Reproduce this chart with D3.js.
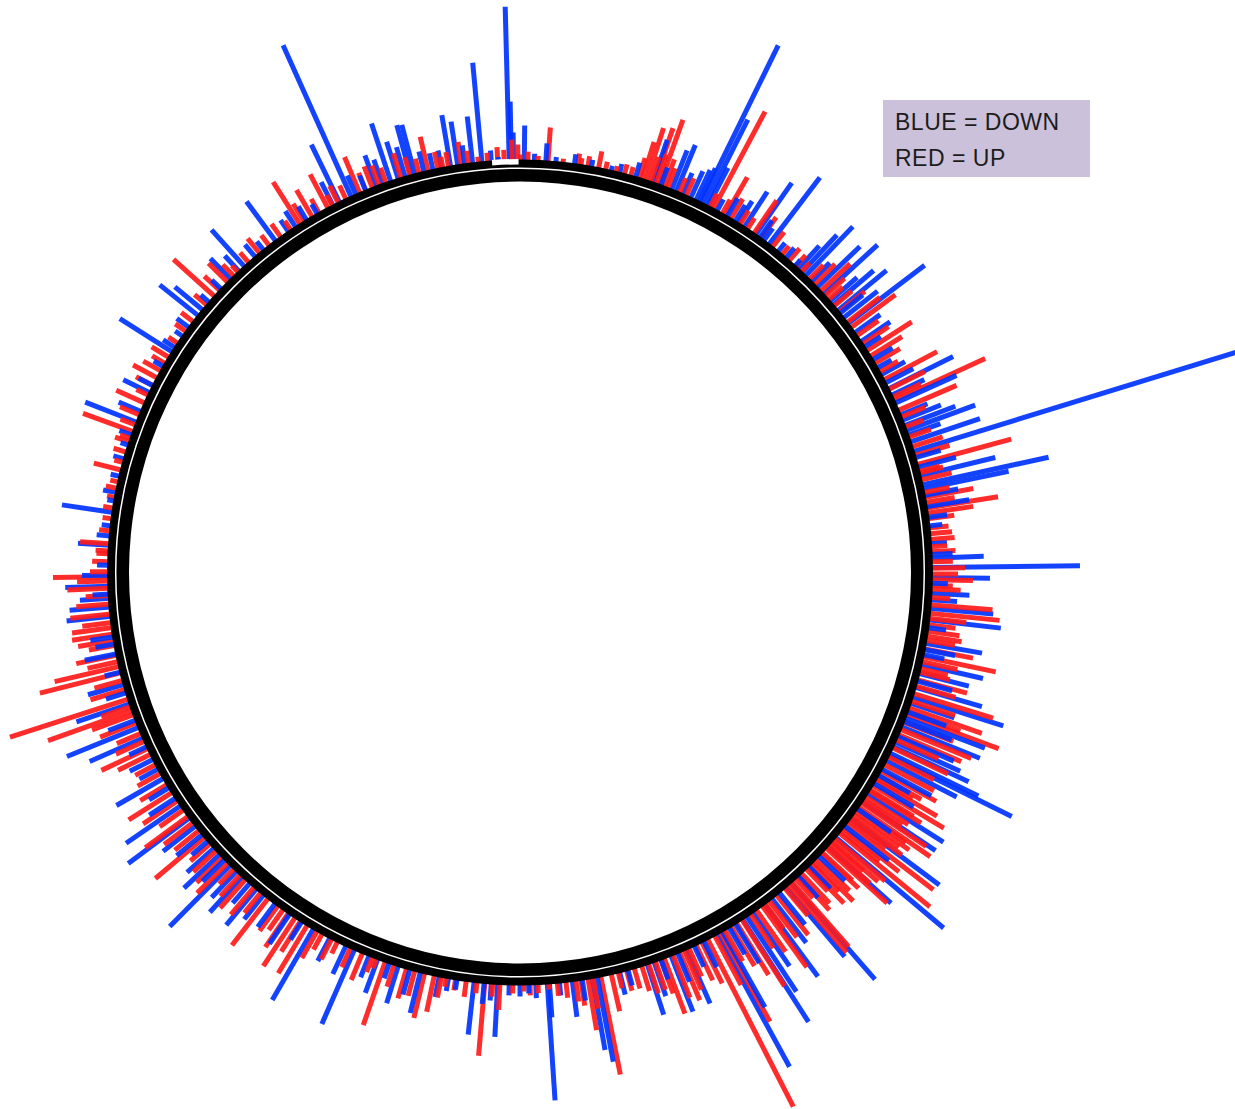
<!DOCTYPE html>
<html>
<head>
<meta charset="utf-8">
<script src="https://cdn.jsdelivr.net/npm/d3@7"></script>
<style>
body{margin:0;background:#fff;}
svg{display:block;}
.legend-text{font-family:"Liberation Sans", Arial, sans-serif;font-size:23px;letter-spacing:0.5px;fill:#1c1c1c;}
</style>
</head>
<body>
<div id="chart"></div>
<script>
// [position around the circle (degrees, clockwise from top), bar size]
var downBars = [
    [0.6, 34], [3.6, 17], [7.6, 9], [10.0, 6], [12.8, 4], [16.3, 14], [18.8, 44], [21.6, 41], [22.3, 49], [24.5, 28],
    [25.3, 32], [25.8, 36], [26.1, 174], [26.7, 94], [27.2, 42], [31.5, 18], [33.0, 41], [34.9, 62], [36.3, 14], [37.2, 83],
    [38.8, 10], [41.9, 7], [43.2, 50], [43.9, 67], [45.0, 25], [46.2, 58], [47.5, 72], [49.5, 52], [50.5, 62], [51.8, 42],
    [52.8, 95], [54.4, 30], [55.9, 34], [60.2, 15], [63.5, 71], [65.7, 66], [69.1, 53], [69.8, 72], [71.5, 72], [72.9, 350],
    [76.4, 76], [77.7, 128], [78.3, 86], [79.2, 33], [80.8, 42], [86.0, 15], [88.0, 51], [89.3, 147], [90.7, 57], [92.9, 37],
    [95.0, 62], [96.6, 71], [97.7, 17], [99.9, 56], [102.9, 62], [104.2, 50], [106.2, 68], [107.6, 94], [110.7, 84], [112.0, 83],
    [113.5, 60], [114.3, 70], [115.0, 82], [116.0, 97], [116.4, 136], [117.2, 78], [118.5, 55], [122.5, 89], [123.8, 87], [126.7, 110],
    [130.0, 140], [131.7, 84], [138.9, 127], [139.8, 90], [143.6, 89], [145.6, 64], [146.6, 89], [147.3, 121], [150.6, 86], [151.4, 150],
    [156.2, 58], [158.5, 59], [162.0, 52], [169.2, 85], [169.9, 72], [172.7, 35], [175.9, 33], [176.2, 116], [177.8, 13], [180.0, 11],
    [183.1, 52], [184.0, 16], [186.4, 52], [188.8, 9], [194.0, 41], [197.2, 38], [200.2, 35], [203.7, 80], [210.1, 81], [219.8, 46],
    [222.4, 47], [224.7, 85], [226.8, 48], [230.5, 32], [233.4, 75], [235.5, 65], [240.0, 53], [246.3, 57], [247.9, 76], [251.4, 55],
    [254.2, 36], [258.6, 31], [263.9, 43], [265.2, 39], [266.4, 28], [268.1, 42], [269.6, 25], [273.8, 30], [275.1, 12], [278.4, 50],
    [281.2, 12], [291.4, 54], [293.0, 23], [295.9, 28], [302.4, 61], [303.1, 13], [306.5, 14], [308.6, 48], [309.6, 35], [315.4, 28],
    [318.0, 48], [323.6, 48], [325.8, 13], [328.8, 15], [334.0, 63], [335.8, 165], [339.6, 32], [341.7, 60], [342.8, 38], [344.6, 51],
    [345.2, 50], [347.8, 16], [349.0, 17], [350.3, 51], [351.3, 43], [353.4, 46], [354.7, 99], [357.0, 3], [358.5, 153], [358.8, 58],
    [359.1, 27],
    // short bars hugging the ring
    [2.0, 6], [5.0, 4], [14.0, 8], [20.0, 18], [23.3, 22], [28.6, 12], [30.2, 20], [32.0, 25], [35.6, 20], [40.2, 12],
    [42.5, 30], [48.8, 35], [51.0, 28], [56.8, 18], [58.9, 22], [61.3, 26], [62.6, 30], [64.5, 35], [67.5, 28], [68.3, 40],
    [70.5, 33], [73.8, 25], [75.2, 38], [82.3, 18], [83.5, 12], [87.5, 20], [91.5, 15], [93.8, 25], [100.8, 30], [101.5, 20],
    [105.3, 35], [108.5, 45], [109.8, 40], [111.2, 50], [119.5, 35], [120.8, 45], [125.0, 40], [128.0, 55], [133.5, 35], [135.5, 30],
    [137.5, 28], [141.0, 40], [142.3, 55], [148.5, 45], [149.5, 30], [153.5, 28], [155.0, 22], [157.5, 30], [160.0, 20], [161.0, 35],
    [164.8, 15], [166.0, 22], [171.3, 20], [174.5, 12], [178.8, 8], [181.5, 10], [185.0, 20], [190.0, 12], [191.3, 20], [195.5, 25],
    [198.5, 15], [201.5, 22], [205.0, 30], [207.5, 25], [212.0, 20], [214.0, 35], [216.5, 28], [218.5, 30], [221.0, 25], [223.5, 35],
    [225.8, 30], [228.0, 35], [229.3, 20], [232.0, 40], [236.8, 30], [238.5, 22], [241.5, 20], [243.0, 25], [245.0, 18], [249.0, 28],
    [253.0, 20], [256.0, 15], [260.0, 18], [261.0, 22], [267.0, 15], [271.0, 10], [276.5, 8], [280.0, 6], [283.5, 8], [286.0, 10],
    [288.0, 7], [289.5, 12], [297.0, 15], [300.0, 10], [305.0, 8], [311.0, 10], [313.5, 12], [317.0, 20], [320.0, 15], [321.5, 10],
    [327.0, 18], [330.5, 10], [333.0, 25], [336.5, 20], [338.0, 15], [340.5, 25], [343.8, 30], [346.5, 20], [352.3, 18], [356.0, 10]
];

var upBars = [
    [1.1, 8], [3.9, 33], [8.1, 10], [8.5, 6], [9.5, 9], [11.0, 16], [14.7, 9], [15.6, 8], [17.3, 38], [17.9, 54],
    [18.5, 25], [19.0, 57], [19.3, 30], [19.8, 68], [20.5, 28], [21.0, 20], [28.0, 109], [29.4, 15], [29.9, 43], [33.5, 12],
    [34.6, 39], [43.1, 11], [44.6, 19], [46.9, 39], [48.5, 18], [49.7, 22], [52.6, 40], [53.5, 54], [57.4, 52], [58.3, 36],
    [62.1, 59], [63.6, 39], [65.3, 99], [66.8, 62], [72.2, 31], [74.8, 96], [76.0, 23], [79.5, 48], [81.0, 71], [81.7, 45],
    [84.6, 21], [85.4, 23], [87.1, 23], [89.4, 32], [91.0, 40], [91.8, 20], [94.5, 61], [95.7, 69], [96.4, 36], [98.2, 31],
    [98.9, 34], [100.7, 48], [101.8, 73], [103.5, 27], [105.1, 50], [107.1, 82], [109.2, 76], [110.2, 97], [112.4, 75], [113.2, 67],
    [114.0, 45], [117.8, 55], [118.8, 62], [119.5, 48], [120.3, 70], [121.1, 82], [122.0, 60], [123.0, 50], [124.0, 77], [124.7, 86],
    [125.5, 65], [126.0, 55], [127.0, 45], [127.5, 108], [128.3, 70], [129.2, 116], [130.8, 60], [131.6, 55], [132.0, 81], [133.0, 50],
    [134.0, 45], [135.0, 38], [136.0, 30], [136.9, 40], [138.0, 25], [138.7, 85], [139.3, 88], [144.0, 75], [147.4, 78], [150.9, 101],
    [152.9, 187], [154.7, 38], [157.2, 51], [159.5, 58], [160.8, 29], [163.9, 20], [167.2, 37], [168.7, 99], [170.5, 51], [173.6, 15],
    [176.0, 5], [178.6, 10], [182.8, 25], [184.9, 72], [190.3, 8], [192.0, 36], [193.4, 45], [199.1, 66], [200.4, 9], [206.3, 12],
    [208.7, 17], [211.1, 55], [213.1, 57], [215.1, 24], [217.7, 58], [221.8, 37], [230.0, 63], [233.7, 52], [237.7, 50], [244.7, 50],
    [249.8, 43], [250.4, 88], [252.1, 123], [255.9, 82], [256.8, 65], [258.4, 40], [261.4, 40], [262.3, 39], [264.2, 39], [265.6, 32],
    [267.8, 40], [269.4, 54], [270.1, 17], [272.6, 11], [274.0, 28], [279.0, 9], [282.7, 7], [284.4, 27], [288.5, 14], [290.0, 52],
    [294.3, 30], [298.2, 26], [299.3, 19], [301.5, 19], [312.1, 54], [314.8, 26], [316.8, 8], [327.7, 49], [329.7, 30], [332.2, 37],
    [332.9, 11], [337.1, 38], [339.0, 22], [343.2, 25], [347.1, 34], [348.5, 16], [350.0, 14], [351.8, 22], [354.2, 5], [356.9, 13],
    [358.9, 20], [359.7, 15],
    // short bars hugging the ring
    [0.0, 5], [2.5, 4], [6.0, 3], [12.0, 7], [13.5, 5], [16.8, 20], [22.8, 15], [23.8, 18], [27.5, 14], [30.8, 22],
    [32.3, 15], [35.8, 25], [37.8, 18], [39.5, 10], [40.8, 15], [42.0, 14], [45.6, 28], [47.8, 25], [50.8, 32], [54.9, 25],
    [56.3, 30], [59.5, 28], [60.8, 20], [64.8, 30], [67.8, 25], [69.3, 18], [70.8, 22], [73.5, 35], [75.8, 20], [77.0, 30],
    [78.8, 25], [80.2, 28], [82.5, 25], [83.8, 18], [86.4, 15], [88.5, 20], [90.2, 25], [92.3, 28], [93.5, 18], [97.3, 26],
    [99.5, 28], [102.5, 35], [104.0, 30], [106.0, 40], [108.2, 45], [109.8, 55], [111.3, 52], [115.2, 60], [116.6, 50], [120.0, 40],
    [121.8, 50], [123.5, 45], [125.0, 58], [126.5, 62], [128.8, 48], [130.2, 65], [131.0, 42], [132.8, 40], [134.6, 55], [135.6, 50],
    [137.5, 45], [140.0, 35], [141.5, 50], [142.8, 45], [143.5, 30], [145.0, 50], [146.0, 40], [148.3, 60], [149.2, 45], [150.2, 35],
    [151.8, 55], [153.8, 45], [155.8, 30], [156.5, 42], [158.2, 45], [160.0, 35], [161.8, 30], [162.8, 25], [165.0, 20], [166.2, 15],
    [169.8, 30], [171.5, 25], [172.2, 20], [174.8, 12], [177.5, 8], [179.5, 6], [181.0, 8], [183.8, 12], [186.0, 10], [187.5, 15],
    [189.0, 10], [191.0, 20], [194.8, 25], [196.0, 30], [197.8, 22], [201.0, 15], [202.5, 28], [204.3, 20], [207.2, 22], [209.5, 30],
    [212.2, 35], [214.2, 40], [216.0, 30], [219.0, 25], [220.2, 35], [222.8, 28], [224.0, 20], [225.2, 42], [226.2, 35], [227.5, 30],
    [228.8, 25], [231.2, 30], [232.6, 35], [234.8, 28], [236.3, 40], [239.0, 30], [240.8, 25], [242.2, 22], [243.8, 35], [245.8, 30],
    [247.0, 25], [248.6, 38], [251.0, 30], [253.5, 35], [254.8, 28], [257.5, 30], [259.8, 25], [260.5, 35], [263.0, 28], [266.8, 22],
    [268.8, 30], [271.5, 15], [273.0, 12], [275.8, 10], [277.5, 8], [280.5, 7], [281.8, 10], [285.5, 8], [287.0, 12], [289.0, 10],
    [291.0, 15], [292.5, 20], [295.5, 12], [297.0, 18], [300.5, 14], [303.8, 10], [305.8, 12], [307.5, 14], [310.5, 15], [313.2, 20],
    [316.0, 15], [318.8, 12], [320.8, 18], [322.5, 12], [324.5, 15], [326.2, 10], [328.4, 20], [330.8, 15], [333.8, 18], [335.0, 14],
    [338.0, 18], [340.0, 20], [341.0, 15], [344.5, 18], [345.8, 14], [349.2, 10], [352.8, 12], [355.5, 8], [357.8, 10]
];

var legendLabels = ['BLUE = DOWN', 'RED = UP'];
var colors = {down: '#0033ff', up: '#ff1a1a'};

var width = 1235, height = 1109;
var center = [520, 572.5];
var ringOuter = 413, ringInner = 391, ringLine = 404.3;

var svg = d3.select('#chart').append('svg')
    .attr('width', width)
    .attr('height', height);

var panel = svg.append('g')
    .attr('transform', 'translate(' + center + ')');

var scaleAngle = d3.scaleLinear().domain([0, 360]).range([0, 2 * Math.PI]);
var scaleR = d3.scaleLinear().domain([0, 100]).range([ringOuter, ringOuter + 100]);

var bars = [];
downBars.forEach(function(d){ bars.push({pos: d[0], val: d[1], dir: 'down'}); });
upBars.forEach(function(d){ bars.push({pos: d[0], val: d[1], dir: 'up'}); });
// long bars first so the short ones stay visible
bars.sort(function(a, b){ return b.val - a.val; });

panel.selectAll('line.bar')
    .data(bars)
    .enter().append('line')
    .attr('class', 'bar')
    .each(function(d){
        var a = scaleAngle(d.pos);
        var p0 = d3.pointRadial(a, scaleR(0) - 2);
        var p1 = d3.pointRadial(a, scaleR(d.val));
        d3.select(this).attr('x1', p0[0]).attr('y1', p0[1]).attr('x2', p1[0]).attr('y2', p1[1]);
    })
    .style('stroke', function(d){ return colors[d.dir]; })
    .style('stroke-width', 5)
    .style('stroke-opacity', 0.92)
    .style('stroke-linecap', 'butt');

// black ring with thin white line
var ringArc = d3.arc()
    .innerRadius(ringInner)
    .outerRadius(ringOuter)
    .startAngle(0)
    .endAngle(2 * Math.PI);
panel.append('path')
    .attr('d', ringArc())
    .style('fill', '#000');

panel.append('circle')
    .attr('r', ringLine)
    .style('fill', 'none')
    .style('stroke', '#fff')
    .style('stroke-width', 1.5);

var gapArc = d3.arc()
    .innerRadius(ringOuter - 5)
    .outerRadius(ringOuter + 0.5)
    .startAngle(scaleAngle(-3.9))
    .endAngle(scaleAngle(-0.2));
panel.append('path')
    .attr('d', gapArc())
    .style('fill', '#fff');

// legend
var legend = svg.append('g')
    .attr('transform', 'translate(883,100)');
legend.append('rect')
    .attr('width', 207)
    .attr('height', 77)
    .style('fill', '#ccc1da');
legend.selectAll('text')
    .data(legendLabels)
    .enter().append('text')
    .attr('class', 'legend-text')
    .attr('x', 12)
    .attr('y', function(d, i){ return 29.5 + i * 36.5; })
    .text(function(d){ return d; });
</script>
</body>
</html>
